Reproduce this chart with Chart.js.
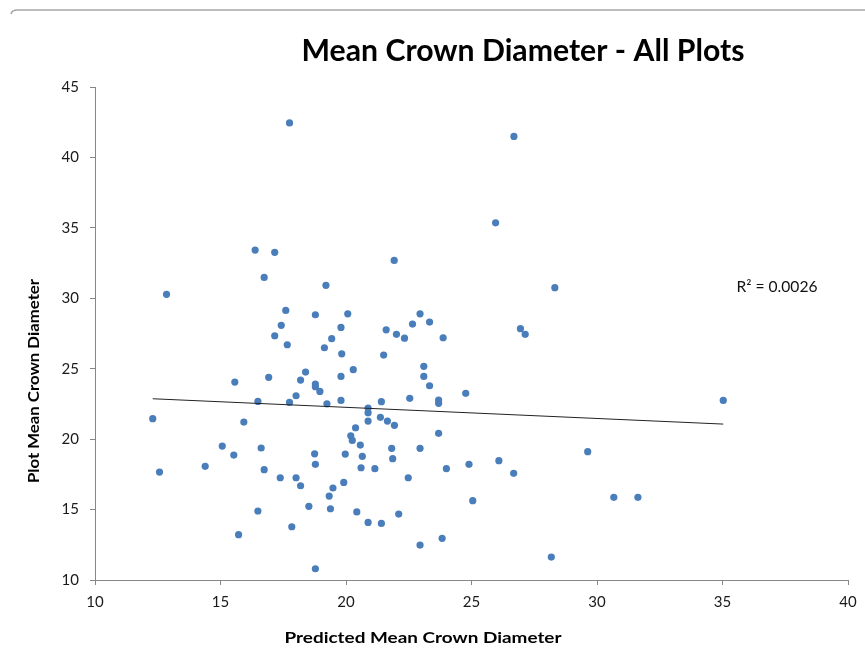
<!DOCTYPE html>
<html>
<head>
<meta charset="utf-8">
<title>Mean Crown Diameter - All Plots</title>
<script src="https://cdn.jsdelivr.net/npm/chart.js@4.4.1/dist/chart.umd.min.js"></script>
<style>
  html, body { margin: 0; padding: 0; background: #fff; }
  #wrap { width: 865px; height: 652px; }
</style>
</head>
<body>
<div id="wrap"><canvas id="crownChart" width="865" height="652"></canvas></div>
<script>
// Predicted vs plot mean crown diameter, one entry per plot
const predicted = [
  17.75, 16.38, 17.16, 16.74, 19.20, 12.85, 17.60, 18.78, 17.42, 19.80,
  17.16, 19.43, 17.66, 19.14, 19.83, 26.69, 25.96, 21.92, 28.32, 20.07,
  22.95, 23.33, 22.65, 21.60, 26.95, 27.14, 22.01, 22.33, 23.87, 21.50,
  15.57, 16.92, 18.39, 18.19, 18.78, 18.78, 18.96, 19.80, 18.01, 16.49,
  17.75, 19.24, 19.80, 12.30, 15.93, 15.07, 16.62, 15.53, 18.75, 18.78,
  14.39, 12.57, 16.74, 17.38, 18.01, 18.19, 19.48, 19.33, 18.52, 19.38,
  16.49, 17.84, 15.72, 18.78, 20.29, 23.10, 23.10, 23.33, 24.77, 22.54,
  23.69, 23.69, 21.41, 20.88, 20.88, 20.88, 21.37, 21.65, 21.93, 20.38,
  20.19, 20.25, 23.69, 20.57, 21.82, 22.95, 19.97, 20.65, 21.86, 26.09,
  24.90, 26.68, 20.60, 21.15, 24.00, 22.48, 19.91, 25.05, 20.43, 20.88,
  21.41, 22.10, 22.95, 23.83, 28.18, 35.03, 29.63, 30.67, 31.63
];
const observed = [
  42.45, 33.42, 33.26, 31.48, 30.92, 30.28, 29.14, 28.83, 28.08, 27.93,
  27.34, 27.13, 26.70, 26.49, 26.06, 41.49, 35.36, 32.69, 30.75, 28.90,
  28.90, 28.31, 28.17, 27.76, 27.84, 27.44, 27.44, 27.17, 27.20, 25.97,
  24.05, 24.39, 24.76, 24.19, 23.91, 23.72, 23.39, 24.45, 23.08, 22.68,
  22.61, 22.51, 22.75, 21.45, 21.21, 19.51, 19.37, 18.87, 18.96, 18.21,
  18.07, 17.66, 17.83, 17.26, 17.26, 16.69, 16.53, 15.96, 15.23, 15.06,
  14.90, 13.78, 13.22, 10.80, 24.93, 25.17, 24.45, 23.79, 23.25, 22.90,
  22.78, 22.54, 22.66, 22.21, 21.88, 21.28, 21.55, 21.28, 20.98, 20.81,
  20.24, 19.91, 20.41, 19.58, 19.35, 19.35, 18.94, 18.78, 18.61, 18.47,
  18.21, 17.57, 17.97, 17.90, 17.90, 17.26, 16.93, 15.63, 14.83, 14.09,
  14.02, 14.68, 12.48, 12.96, 11.63, 22.75, 19.11, 15.87, 15.87
];

// linear trendline y = slope * x + intercept
const trendSlope = -0.0791;
const trendIntercept = 23.84;
const rSquaredText = 'R\u00B2 = 0.0026';

const xTicks = [10, 15, 20, 25, 30, 35, 40];
const yTicks = [10, 15, 20, 25, 30, 35, 40, 45];

const points = predicted.map((x, i) => ({ x: x, y: observed[i] }));
const xMin = Math.min(...predicted);
const xMax = Math.max(...predicted);
const trend = [
  { x: xMin, y: trendSlope * xMin + trendIntercept },
  { x: xMax, y: trendSlope * xMax + trendIntercept }
];

const axisGrey = '#878787';
const textFont = 'Lato, "Open Sans", sans-serif';

// draw text squeezed/stretched to a given width, centred on (cx, cy)
function fitText(c, text, cx, cy, width, angle) {
  const w = c.measureText(text).width;
  c.save();
  c.translate(cx, cy);
  if (angle) c.rotate(angle);
  c.scale(width / w, 1);
  c.fillText(text, 0, 0);
  c.restore();
}

// titles, R2 label and the frame line drawn by hand
const extras = {
  id: 'extras',
  afterDraw(chart) {
    const c = chart.ctx;
    c.save();
    // frame
    c.strokeStyle = '#a6a6a6';
    c.lineWidth = 1.5;
    c.beginPath();
    c.moveTo(11, 14);
    c.quadraticCurveTo(12, 10, 17, 10);
    c.lineTo(865, 10);
    c.stroke();

    c.fillStyle = '#000';
    c.textAlign = 'center';
    c.textBaseline = 'middle';
    c.font = 'bold 30px ' + textFont;
    fitText(c, 'Mean Crown Diameter - All Plots', 523, 51, 443);

    c.font = 'bold 16px ' + textFont;
    fitText(c, 'Predicted Mean Crown Diameter', 423, 638, 277);
    fitText(c, 'Plot Mean Crown Diameter', 34, 381, 204, -Math.PI / 2);

    c.fillStyle = '#111';
    c.font = '15px ' + textFont;
    fitText(c, rSquaredText, 777, 287, 81);
    c.restore();
  }
};

new Chart(document.getElementById('crownChart'), {
  type: 'scatter',
  data: {
    datasets: [{
      label: 'Plots',
      data: points,
      backgroundColor: '#4a7ebb',
      borderColor: '#4a7ebb',
      pointRadius: 3.6,
      pointBorderWidth: 0,
      order: 2
    }, {
      type: 'line',
      label: 'Linear trend',
      data: trend,
      borderColor: '#222',
      borderWidth: 1,
      pointRadius: 0,
      fill: false,
      order: 1
    }]
  },
  options: {
    responsive: false,
    animation: false,
    layout: { padding: { left: 0, top: 87, right: 17, bottom: 0 } },
    plugins: {
      legend: { display: false },
      tooltip: { enabled: false },
      title: { display: false }
    },
    scales: {
      x: {
        type: 'linear',
        min: 10,
        max: 40,
        afterBuildTicks(scale) { scale.ticks = xTicks.map(v => ({ value: v })); },
        afterFit(scale) { scale.height = 72; },
        grid: { drawOnChartArea: false, drawTicks: true, tickLength: 5, color: axisGrey },
        border: { display: true, color: axisGrey, width: 1 },
        ticks: { color: '#1a1a1a', font: { family: textFont, size: 15 }, padding: 8 }
      },
      y: {
        type: 'linear',
        min: 10,
        max: 45,
        afterBuildTicks(scale) { scale.ticks = yTicks.map(v => ({ value: v })); },
        afterFit(scale) { scale.width = 95; },
        grid: { drawOnChartArea: false, drawTicks: true, tickLength: 5, color: axisGrey },
        border: { display: true, color: axisGrey, width: 1 },
        ticks: { color: '#1a1a1a', font: { family: textFont, size: 15 }, padding: 11 }
      }
    }
  },
  plugins: [extras]
});
</script>
</body>
</html>
